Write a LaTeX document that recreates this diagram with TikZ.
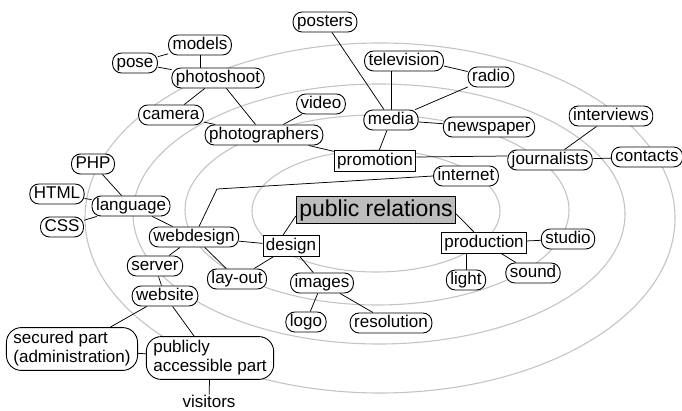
\documentclass[tikz,border=0pt]{standalone}
\usepackage{fontspec}
\setmainfont{Liberation Sans}
\usetikzlibrary{backgrounds}
\definecolor{ringgray}{HTML}{C4C4C4}
\definecolor{prgray}{HTML}{BDBDBD}
\begin{document}
\begin{tikzpicture}[x=1pt,y=-1pt,
  lbl/.style={draw, fill=white, rounded corners=9pt, line width=0.9pt, inner xsep=4pt, inner ysep=0pt,
    minimum height=20pt, text height=12.5pt, text depth=3.5pt, font=\fontsize{17}{19}\selectfont},
  boxnode/.style={draw, fill=white, line width=0.9pt, inner xsep=3pt, inner ysep=0pt,
    minimum height=21pt, text height=12.5pt, text depth=3.5pt, font=\fontsize{17}{19}\selectfont},
  bignode/.style={draw, fill=prgray, line width=0.9pt, inner xsep=3pt, inner ysep=0pt,
    minimum height=27pt, text height=17pt, text depth=4.5pt, font=\fontsize{23}{26}\selectfont},
  multi/.style={draw, fill=white, rounded corners=15pt, line width=0.9pt, align=left, inner xsep=7pt, inner ysep=4pt,
    font=\fontsize{17}{19}\selectfont},
  plain/.style={inner sep=0pt, font=\fontsize{17}{19}\selectfont},
  ring/.style={draw=ringgray, line width=1.1pt},
  link/.style={draw, line width=0.75pt}
]
\useasboundingbox (0,0) rectangle (682,411);

% nodes
\node[lbl] (posters) at (325,22) {posters};
\node[lbl] (models) at (200,45) {models};
\node[lbl] (pose) at (135,63) {pose};
\node[lbl] (photoshoot) at (218,78) {photoshoot};
\node[lbl] (camera) at (171,115) {camera};
\node[lbl] (video) at (321,104) {video};
\node[lbl] (photographers) at (264,135) {photographers};
\node[lbl] (television) at (404,61) {television};
\node[lbl] (radio) at (491,77) {radio};
\node[lbl] (media) at (391,120) {media};
\node[lbl] (newspaper) at (489,127) {newspaper};
\node[lbl] (interviews) at (611,116) {interviews};
\node[boxnode] (promotion) at (375,161) {promotion};
\node[lbl] (journalists) at (550,160) {journalists};
\node[lbl] (contacts) at (647,157) {contacts};
\node[lbl] (internet) at (466,176) {internet};
\node[bignode] (pr) at (376,210) {public relations};
\node[lbl] (php) at (93,164) {PHP};
\node[lbl] (html) at (57,194) {HTML};
\node[lbl] (language) at (131,206) {language};
\node[lbl] (css) at (62,227) {CSS};
\node[lbl] (webdesign) at (194,237) {webdesign};
\node[boxnode] (design) at (291,246) {design};
\node[lbl] (server) at (155,266) {server};
\node[lbl] (layout) at (237,279) {lay-out};
\node[lbl] (images) at (322,283) {images};
\node[lbl] (website) at (165,296) {website};
\node[lbl] (logo) at (306,322) {logo};
\node[lbl] (resolution) at (391,323) {resolution};
\node[boxnode] (production) at (484,243) {production};
\node[lbl] (studio) at (568,239) {studio};
\node[lbl] (light) at (466,280) {light};
\node[lbl] (sound) at (533,273) {sound};
\node[multi] (secured) at (72,349) {secured part\\(administration)};
\node[multi] (publicly) at (210,358) {publicly\\accessible part};
\node[plain] (visitors) at (209,401) {visitors};
\coordinate (bend) at (217,189);

\begin{scope}[on background layer]
  % rings
  \draw[ring] (376,211) ellipse [x radius=124, y radius=61];
  \draw[ring] (377,210) ellipse [x radius=192, y radius=95];
  \draw[ring] (379,214) ellipse [x radius=246, y radius=130];
  \draw[ring] (380,218) ellipse [x radius=295, y radius=175];

  % connectors
  \path[link] (models.south) -- (models.south |- photoshoot.north);
  \path[link] (pose) -- (models);
  \path[link] (pose) -- (photoshoot);
  \path[link] (photoshoot) -- (camera);
  \path[link] (photoshoot) -- (photographers);
  \path[link] (camera) -- (photographers);
  \path[link] (video) -- (photographers);
  \path[link] (photographers) -- (promotion);
  \path[link] (posters) -- (media);
  \path[link] (media.north) -- (media.north |- television.south);
  \path[link] ([yshift=-5pt]television.east) -- (radio);
  \path[link] (radio) -- (media);
  \path[link] (media) -- (newspaper);
  \path[link] (media) -- (promotion);
  \path[link] ([yshift=4pt]promotion.east) -- ([yshift=4pt]journalists.west);
  \path[link] (journalists) -- (interviews);
  \path[link] (journalists) -- (contacts);
  \path[link] (internet.west) -- (bend) -- (webdesign);
  \path[link] ([yshift=-6pt]pr.west) -- ([xshift=-8pt]design.north);
  \path[link] ([yshift=-4pt]pr.east) -- ([xshift=-10pt]production.north);
  \path[link] (design) -- (webdesign);
  \path[link] (design) -- (layout);
  \path[link] (design) -- (images);
  \path[link] (webdesign) -- (layout);
  \path[link] (webdesign) -- (server);
  \path[link] (webdesign) -- (language);
  \path[link] (language) -- (php);
  \path[link] (language) -- (html);
  \path[link] (language) -- (css);
  \path[link] (server) -- (website);
  \path[link] (website) -- (publicly);
  \path[link] (website) -- (secured);
  \path[link] (secured) -- (publicly);
  \path[link] (publicly) -- (visitors);
  \path[link] (images) -- (logo);
  \path[link] (images) -- (resolution);
  \path[link] (production) -- (studio);
  \path[link] (light.north) -- (light.north |- production.south);
  \path[link] (production) -- (sound);
\end{scope}
\end{tikzpicture}
\end{document}
